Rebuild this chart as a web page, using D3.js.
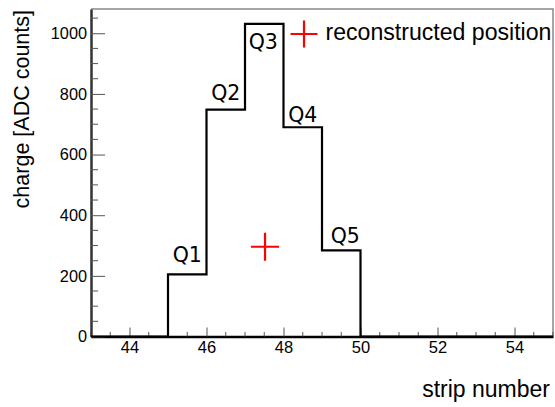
<!DOCTYPE html>
<html>
<head>
<meta charset="utf-8">
<script src="https://cdn.jsdelivr.net/npm/d3@7"></script>
<style>
  body { margin: 0; background: #fff; }
  svg { display: block; }
</style>
</head>
<body>
<svg id="chart" width="555" height="407"></svg>
<script>
// Strip histogram: charge per strip (bin lower edges and contents)
const binEdges = [43, 44, 45, 46, 47, 48, 49, 50, 51, 52, 53, 54, 55];
const charges = [0, 0, 205, 748, 1031, 690, 284, 0, 0, 0, 0, 0];
const stripLabels = ["Q1", "Q2", "Q3", "Q4", "Q5"];
const labelledBins = [2, 3, 4, 5, 6];
const recoPosition = [47.52, 296];
const xTicks = [44, 46, 48, 50, 52, 54];
const yTicks = [0, 200, 400, 600, 800, 1000];

const svg = d3.select("#chart");
const m = { left: 91, top: 9, right: 553, bottom: 336.5 };

const x = d3.scaleLinear().domain([43, 55]).range([m.left, m.right]);
const y = d3.scaleLinear().domain([0, 1080]).range([m.bottom, m.top]);

const axisFont = "'Liberation Sans', Arial, sans-serif";

// frame (top and right)
svg.append("path")
  .attr("d", `M${m.left},${m.top}H${m.right}V${m.bottom}`)
  .attr("fill", "none").attr("stroke", "#888").attr("stroke-width", 1.5);

// minor ticks on both axes
const xMinor = d3.range(43, 55.01, 0.5).filter(v => !xTicks.includes(v));
const yMinor = d3.range(0, 1080, 50).filter(v => !yTicks.includes(v));

const xAxis = d3.axisBottom(x).tickValues(xTicks).tickFormat(d3.format("d"))
  .tickSizeInner(-9).tickSizeOuter(0).tickPadding(4.6);
const gx = svg.append("g").attr("transform", `translate(0,${m.bottom})`).call(xAxis);
gx.select(".domain").attr("stroke", "#000").attr("stroke-width", 2.5);
gx.selectAll(".tick line").attr("stroke", "#555");
gx.selectAll(".tick text").attr("font-family", axisFont).attr("font-size", 16.5).attr("fill", "#000");
gx.selectAll(".minor").data(xMinor).enter().append("line")
  .attr("x1", d => x(d)).attr("x2", d => x(d)).attr("y1", 0).attr("y2", -4.5)
  .attr("stroke", "#555");

const yAxis = d3.axisLeft(y).tickValues(yTicks).tickFormat(d3.format("d"))
  .tickSizeInner(-14).tickSizeOuter(0).tickPadding(18);
const gy = svg.append("g").attr("transform", `translate(${m.left},0)`).call(yAxis);
gy.select(".domain").attr("stroke", "#333").attr("stroke-width", 2.5);
gy.selectAll(".tick line").attr("stroke", "#555");
gy.selectAll(".tick text").attr("font-family", axisFont).attr("font-size", 16.3).attr("fill", "#000")
  .attr("dx", 14);
gy.selectAll(".minor").data(yMinor).enter().append("line")
  .attr("y1", d => y(d)).attr("y2", d => y(d)).attr("x1", 0).attr("x2", 7)
  .attr("stroke", "#555");

// histogram outline
let d = `M${x(binEdges[0])},${y(0)}`;
charges.forEach((c, i) => {
  d += `V${y(c)}H${x(binEdges[i + 1])}`;
});
d += `V${y(0)}`;
svg.append("path").attr("d", d)
  .attr("fill", "none").attr("stroke", "#000").attr("stroke-width", 2.2)
  .attr("stroke-linejoin", "miter");

// strip labels: baseline offset from each bin top (the peak label sits inside its bin)
const labelOffsets = [-12, -10, 25, -5, -7];
const labelShift = [0, 0, -1, 0, 4];
const qFont = "'DejaVu Sans', sans-serif";
labelledBins.forEach((b, i) => {
  const cx = (x(binEdges[b]) + x(binEdges[b + 1])) / 2;
  svg.append("text")
    .attr("x", cx + labelShift[i])
    .attr("y", y(charges[b]) + labelOffsets[i])
    .attr("text-anchor", "middle")
    .attr("font-family", qFont).attr("font-size", 20.5)
    .attr("fill", "#000")
    .text(stripLabels[i]);
});

// reconstructed position marker
function cross(cx, cy, half) {
  svg.append("path")
    .attr("d", `M${cx - half},${cy}H${cx + half}M${cx},${cy - half}V${cy + half}`)
    .attr("stroke", "#ff0000").attr("stroke-width", 2.2).attr("fill", "none");
}
cross(x(recoPosition[0]), y(recoPosition[1]), 14);

// legend
cross(304, 34, 13.5);
svg.append("text").attr("x", 325.5).attr("y", 39.5)
  .attr("font-family", axisFont).attr("font-size", 23.1).attr("fill", "#000")
  .text("reconstructed position");

// axis titles
svg.append("text").attr("x", 550).attr("y", 396.5).attr("text-anchor", "end")
  .attr("font-family", axisFont).attr("font-size", 23).attr("fill", "#000")
  .text("strip number");
svg.append("text")
  .attr("transform", "translate(28.5,10) rotate(-90)")
  .attr("text-anchor", "end")
  .attr("font-family", axisFont).attr("font-size", 21.5).attr("fill", "#000")
  .text("charge [ADC counts]");
</script>
</body>
</html>
